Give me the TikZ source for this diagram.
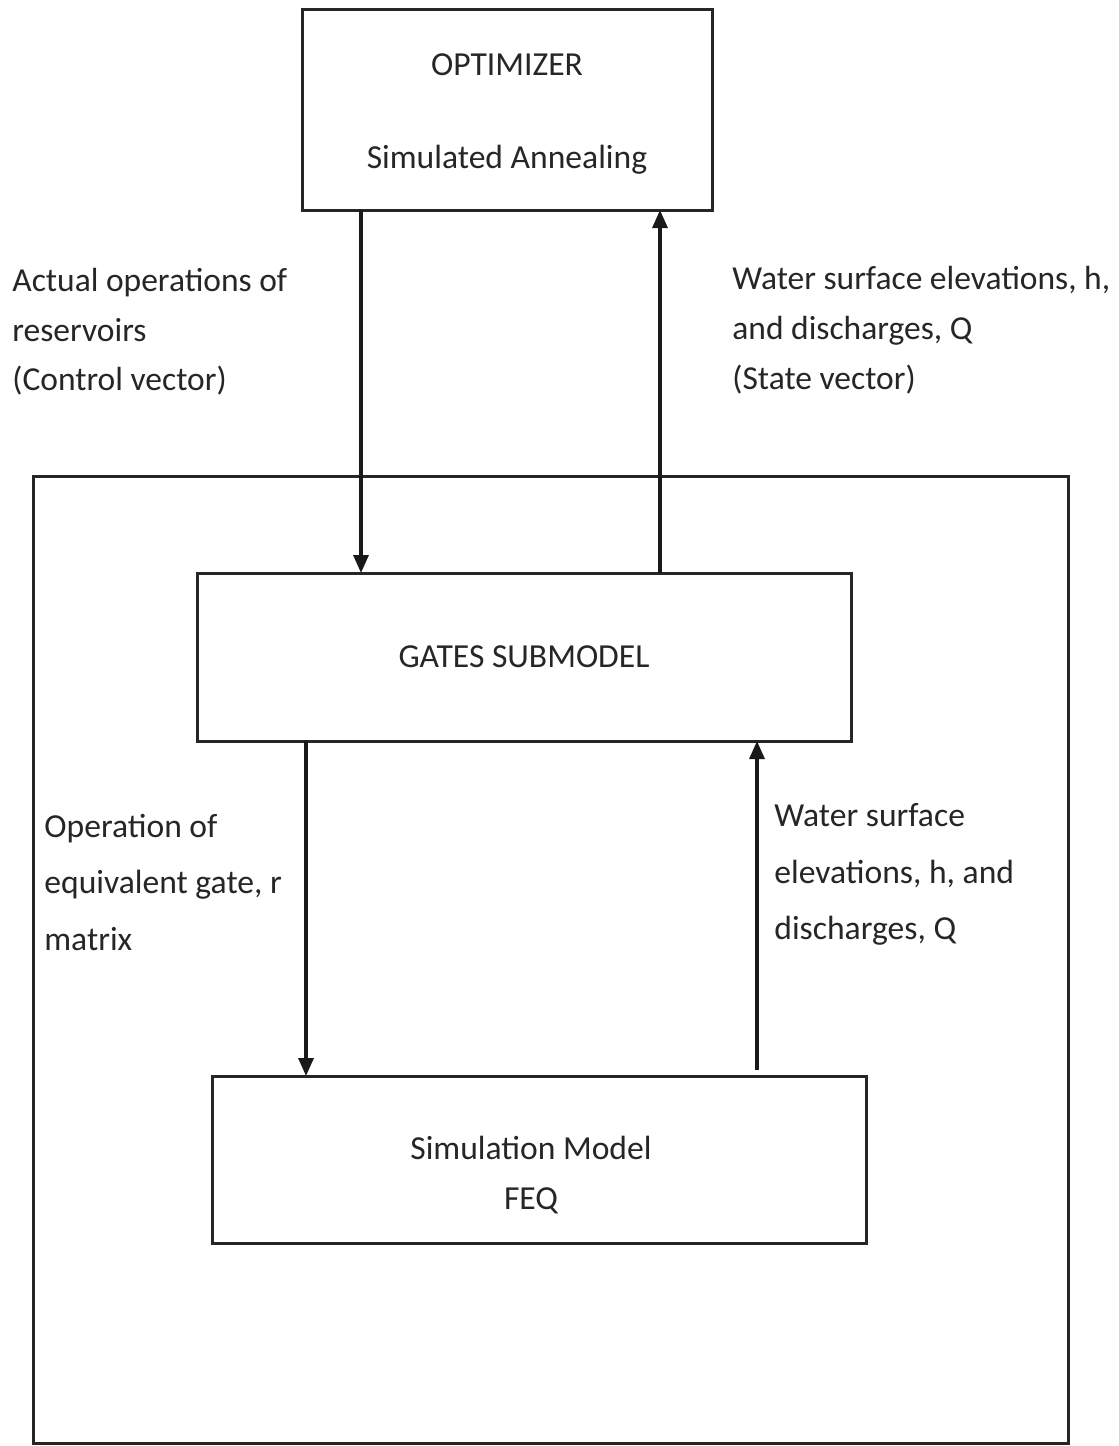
\documentclass[tikz,border=0pt]{standalone}
\usepackage{fontspec}
\setmainfont{Carlito}
\usetikzlibrary{arrows.meta}
\begin{document}
\begin{tikzpicture}[x=0.5pt,y=-0.5pt,
  box/.style={draw=black!85,line width=1.5pt,inner sep=0pt,outer sep=0pt,fill=none},
  arr/.style={draw=black!90,line width=1.6pt,-{Triangle[length=9pt,width=7.5pt]}},
  boxtext/.style={anchor=base,inner sep=0pt,text=black!85,font=\fontsize{16.8}{20}\selectfont},
  uplabel/.style={anchor=base west,inner sep=0pt,text=black!85,font=\fontsize{16.75}{20}\selectfont},
  lowlabel/.style={anchor=base west,inner sep=0pt,text=black!85,font=\fontsize{16.8}{20}\selectfont}]
  \useasboundingbox[fill=white] (0,0) rectangle (1119,1446);

  % frame around the simulation part
  \node[box,minimum width=517.5pt,minimum height=483.5pt] (outer) at (550.5,959.5) {};

  % blocks
  \node[box,minimum width=205pt,minimum height=100.5pt] (opt) at (507,109.5) {};
  \node[box,minimum width=327pt,minimum height=84pt] (gates) at (524,657) {};
  \node[box,minimum width=327pt,minimum height=83.5pt] (sim) at (539,1159.5) {};

  % block texts
  \node[boxtext] (optA) at (507,75) {OPTIMIZER};
  \node[boxtext] (optB) at (507,168) {Simulated Annealing};
  \node[boxtext] (gatesA) at (524,667) {GATES SUBMODEL};
  \node[boxtext] (simA) at (531,1159) {Simulation Model};
  \node[boxtext] (simB) at (531,1209) {FEQ};

  % connector columns
  \coordinate (c1) at (361,0);
  \coordinate (c2) at (660,0);
  \coordinate (c3) at (306,0);
  \coordinate (c4) at (757,0);

  \draw[arr] (opt.south -| c1) -- (gates.north -| c1);
  \draw[arr] (gates.north -| c2) -- (opt.south -| c2);
  \draw[arr] (gates.south -| c3) -- (sim.north -| c3);
  \draw[arr,shorten <=3pt] (sim.north -| c4) -- (gates.south -| c4);

  % connector labels
  \node[uplabel] (l1a) at (12,291) {Actual operations of};
  \node[uplabel] (l1b) at (12,341) {reservoirs};
  \node[uplabel] (l1c) at (12,390) {(Control vector)};

  \node[uplabel] (l2a) at (732,289) {Water surface elevations, h,};
  \node[uplabel] (l2b) at (732,339) {and discharges, Q};
  \node[uplabel] (l2c) at (732,389) {(State vector)};

  \node[lowlabel] (l3a) at (44,837) {Operation of};
  \node[lowlabel] (l3b) at (44,893) {equivalent gate, r};
  \node[lowlabel] (l3c) at (44,950) {matrix};

  \node[lowlabel] (l4a) at (774,826) {Water surface};
  \node[lowlabel] (l4b) at (774,883) {elevations, h, and};
  \node[lowlabel] (l4c) at (774,939) {discharges, Q};
\end{tikzpicture}
\end{document}
